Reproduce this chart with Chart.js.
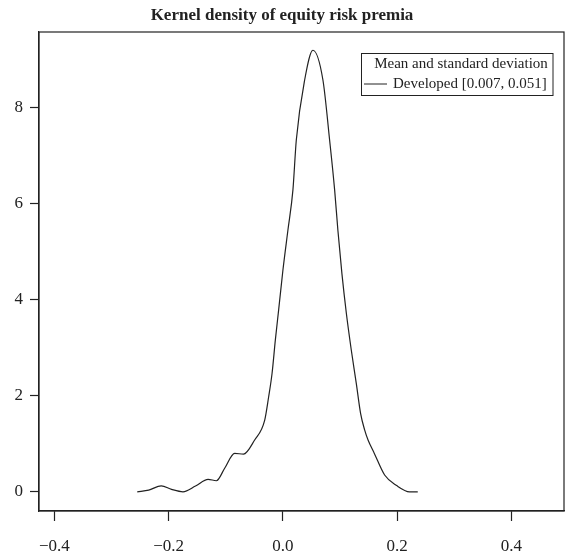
<!DOCTYPE html>
<html>
<head>
<meta charset="utf-8">
<script src="https://cdn.jsdelivr.net/npm/chart.js@4"></script>
<style>
    html, body { margin: 0; padding: 0; background: #fff; }
    #wrap { width: 565px; height: 551px; }
</style>
</head>
<body>
<div id="wrap"><canvas id="densityChart" width="565" height="551"></canvas></div>
<script>
// Density curve (x = equity risk premium, y = density)
const densityX = [-0.255, -0.235, -0.213, -0.195, -0.175, -0.153, -0.131, -0.1165, -0.102, -0.0845, -0.069,
    -0.0495, -0.032, -0.025, -0.019, -0.0133, -0.0075, 0.0, 0.0087, 0.0175, 0.0234, 0.038, 0.0525,
    0.070, 0.0817, 0.0905, 0.0962, 0.1032, 0.111, 0.1197, 0.1284, 0.136, 0.143, 0.149, 0.160,
    0.178, 0.199, 0.2217, 0.236];
const densityY = [0.0, 0.035, 0.125, 0.05, 0.0, 0.12, 0.26, 0.23, 0.49, 0.80, 0.785,
    1.08, 1.49, 1.98, 2.47, 3.16, 3.79, 4.62, 5.45, 6.29, 7.33, 8.58, 9.2,
    8.58, 7.33, 6.29, 5.45, 4.55, 3.72, 2.95, 2.26, 1.63, 1.29, 1.08, 0.80,
    0.35, 0.13, 0.0, 0.0];
const xTicks = [-0.4, -0.2, 0.0, 0.2, 0.4];
const yTicks = [0, 2, 4, 6, 8];
const legendTitle = 'Mean and standard deviation';
const seriesLabel = 'Developed [0.007, 0.051]';

const serif = '"Liberation Serif", "DejaVu Serif", serif';
const ink = '#222';

// R-style boxed legend + frame around the plot
const rFrame = {
    id: 'rFrame',
    afterDraw(chart) {
        const { ctx, chartArea: a } = chart;
        ctx.save();
        ctx.strokeStyle = ink;
        ctx.lineWidth = 1.2;
        ctx.strokeRect(a.left, a.top, a.right - a.left, a.bottom - a.top);

        // legend box
        const bx = 361.5, by = 53.5, bw = 191.5, bh = 42;
        ctx.lineWidth = 1;
        ctx.strokeRect(bx, by, bw, bh);
        ctx.fillStyle = ink;
        ctx.font = '15px ' + serif;
        ctx.textBaseline = 'middle';
        ctx.textAlign = 'center';
        ctx.fillText(legendTitle, 461, 64);
        ctx.textAlign = 'left';
        ctx.fillText(seriesLabel, 393, 84);
        ctx.beginPath();
        ctx.moveTo(364, 84);
        ctx.lineTo(387, 84);
        ctx.stroke();
        ctx.restore();
    }
};

const ctx = document.getElementById('densityChart').getContext('2d');
new Chart(ctx, {
    type: 'line',
    data: {
        datasets: [{
            label: seriesLabel,
            data: densityX.map((x, i) => ({ x: x, y: densityY[i] })),
            borderColor: ink,
            borderWidth: 1.2,
            pointRadius: 0,
            fill: false,
            cubicInterpolationMode: 'monotone'
        }]
    },
    options: {
        responsive: false,
        animation: false,
        layout: { padding: { right: 1, left: 0, bottom: 0 } },
        plugins: {
            legend: { display: false },
            tooltip: { enabled: false },
            title: {
                display: true,
                text: 'Kernel density of equity risk premia',
                color: ink,
                font: { family: serif, size: 17, weight: 'bold', lineHeight: 1.2 },
                padding: { top: 5, bottom: 6.6 }
            }
        },
        scales: {
            x: {
                type: 'linear',
                min: -0.427,
                max: 0.492,
                afterBuildTicks: s => { s.ticks = xTicks.map(v => ({ value: v })); },
                afterFit: s => { s.height = 40; },
                border: { display: true, color: ink, width: 1.2 },
                grid: { display: true, drawOnChartArea: false, tickLength: 10, color: ink, tickColor: ink, tickWidth: 1.2 },
                ticks: {
                    color: ink,
                    padding: 15,
                    maxRotation: 0,
                    font: { family: serif, size: 17 },
                    callback: v => (v < 0 ? '\u2212' : '') + Math.abs(v).toFixed(1)
                }
            },
            y: {
                min: -0.40,
                max: 9.58,
                afterBuildTicks: s => { s.ticks = yTicks.map(v => ({ value: v })); },
                afterFit: s => { s.width = 39; },
                border: { display: true, color: ink, width: 1.2 },
                grid: { display: true, drawOnChartArea: false, tickLength: 9, color: ink, tickColor: ink, tickWidth: 1.2 },
                ticks: {
                    color: ink,
                    padding: 7,
                    font: { family: serif, size: 17 },
                    callback: v => String(v)
                }
            }
        }
    },
    plugins: [rFrame]
});
</script>
</body>
</html>
